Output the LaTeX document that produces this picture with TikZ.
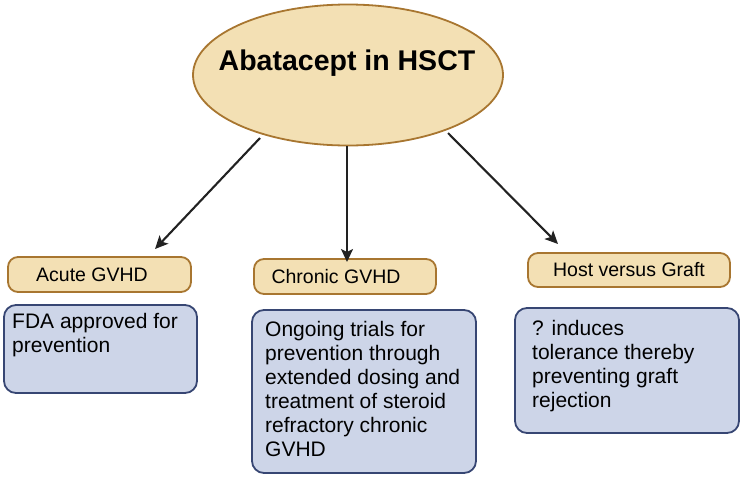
\documentclass[tikz,border=0pt]{standalone}
\usepackage{fontspec}
\setmainfont{Liberation Sans}
\usetikzlibrary{shapes.geometric,arrows.meta}
\definecolor{beigefill}{RGB}{243,224,180}
\definecolor{browndraw}{RGB}{168,118,48}
\definecolor{bluefill}{RGB}{205,213,232}
\definecolor{bluedraw}{RGB}{55,70,115}
\definecolor{arrowc}{RGB}{34,34,34}
\begin{document}
\begin{tikzpicture}[x=1pt,y=1pt,
  labelbox/.style={draw=browndraw,fill=beigefill,line width=1.8pt,rounded corners=10pt,inner sep=0pt},
  bodybox/.style={draw=bluedraw,fill=bluefill,line width=1.8pt,rounded corners=12pt,inner sep=0pt},
  labeltext/.style={font=\fontsize{19.5}{23}\selectfont,text=black},
  bodytext/.style={font=\fontsize{21}{24}\selectfont,text=black,align=left,anchor=north west,inner sep=0pt},
  conn/.style={draw=arrowc,line width=2.1pt,-{Stealth[length=13pt,width=12pt,inset=3pt]}}]
\useasboundingbox (0,0) rectangle (743,-477);
% root
\node[ellipse,draw=browndraw,fill=beigefill,line width=1.8pt,minimum width=310pt,minimum height=141pt,inner sep=0pt] (root) at (348,-75) {};
\node[font=\bfseries\fontsize{28.5}{32}\selectfont] (title) at (347,-63) {Abatacept in HSCT};
% label boxes
\node[labelbox,minimum width=183pt,minimum height=35pt] (acute) at (99.5,-274.5) {};
\node[labeltext] (acutet) at (92,-274.5) {Acute GVHD};
\node[labelbox,minimum width=182pt,minimum height=35pt] (chronic) at (345,-276.5) {};
\node[labeltext] (chronict) at (336,-276.5) {Chronic GVHD};
\node[labelbox,minimum width=202pt,minimum height=34pt] (hvg) at (629,-270) {};
\node[labeltext] (hvgt) at (629,-270) {Host versus Graft};
% body boxes
\node[bodybox,minimum width=193pt,minimum height=88pt] (fda) at (100.5,-349) {};
\node[bodytext] (fdat) at (12,-313) {FDA approved for\\prevention};
\node[bodybox,minimum width=224pt,minimum height=163pt] (ongo) at (364,-391.5) {};
\node[bodytext] (ongot) at (265,-321) {Ongoing trials for\\prevention through\\extended dosing and\\treatment of steroid\\refractory chronic\\GVHD};
\node[bodybox,minimum width=224pt,minimum height=125pt] (tol) at (627,-370.5) {};
\node[bodytext] (tolt) at (532,-320) {? induces\\tolerance thereby\\preventing graft\\rejection};
% connectors
\coordinate (s1) at (260,-138);
\coordinate (e1) at (155,-249);
\coordinate (s2) at (347,-146);
\coordinate (e2) at (347,-262);
\coordinate (s3) at (448,-133);
\coordinate (e3) at (558,-244);
\draw[conn] (s1) -- (e1);
\draw[conn] (s2) -- (e2);
\draw[conn] (s3) -- (e3);
\end{tikzpicture}
\end{document}
